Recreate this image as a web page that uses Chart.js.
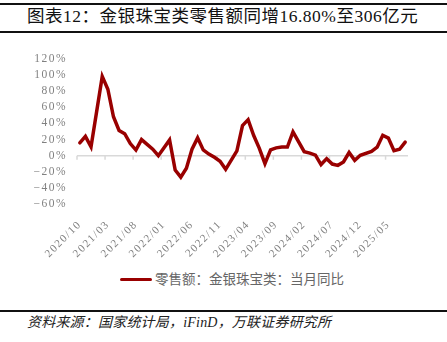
<!DOCTYPE html>
<html lang="zh">
<head>
  <meta charset="UTF-8">
  <title>金银珠宝类零售额</title>
  <script src="https://cdn.jsdelivr.net/npm/chart.js"></script>
  <style>
    body { margin: 0; background: #fff; }
    #wrap { position: relative; width: 447px; height: 342px; overflow: hidden; }
    .rule { position: absolute; left: 0; width: 447px; height: 2px; background: #111; }
    #title { position: absolute; left: 27px; top: 6px; font: 17.5px/20px "Liberation Serif", "Noto Sans CJK SC"; letter-spacing: 0.5px; color: #111; white-space: nowrap; }
    #box { position: absolute; left: 0; top: 40px; width: 447px; height: 225px; }
    #legend { position: absolute; left: 120px; top: 271px; font: 13.5px/18px "Liberation Serif", "Noto Sans CJK SC"; color: #666; white-space: nowrap; }
    #legend i { display: inline-block; width: 32px; height: 3px; border-radius: 2px; background: #990000; vertical-align: middle; margin-right: 3px; position: relative; top: -1px; }
    #src { position: absolute; left: 27px; top: 314px; font: italic 14px/18px "Liberation Serif", "Noto Sans CJK SC"; letter-spacing: 0.2px; color: #222; white-space: nowrap; }
  </style>
</head>
<body>
  <div id="wrap">
    <div class="rule" style="top:3px"></div>
    <div id="title">图表12：金银珠宝类零售额同增16.80%至306亿元</div>
    <div class="rule" style="top:31px"></div>
    <div id="box"><canvas id="chart"></canvas></div>
    <div id="legend"><i></i>零售额：金银珠宝类：当月同比</div>
    <div class="rule" style="top:310px"></div>
    <div id="src">资料来源：国家统计局，iFinD，万联证券研究所</div>
  </div>

  <script>
    // months, 2020/10 .. 2025/08
    const months = [
      "2020/10", "2020/11", "2020/12",
      "2021/01", "2021/02", "2021/03", "2021/04", "2021/05", "2021/06",
      "2021/07", "2021/08", "2021/09", "2021/10", "2021/11", "2021/12",
      "2022/01", "2022/02", "2022/03", "2022/04", "2022/05", "2022/06",
      "2022/07", "2022/08", "2022/09", "2022/10", "2022/11", "2022/12",
      "2023/01", "2023/02", "2023/03", "2023/04", "2023/05", "2023/06",
      "2023/07", "2023/08", "2023/09", "2023/10", "2023/11", "2023/12",
      "2024/01", "2024/02", "2024/03", "2024/04", "2024/05", "2024/06",
      "2024/07", "2024/08", "2024/09", "2024/10", "2024/11", "2024/12",
      "2025/01", "2025/02", "2025/03", "2025/04", "2025/05", "2025/06",
      "2025/07", "2025/08"
    ];

    // 当月同比 (%), January is not published separately
    const yoy = [
      16.0, 24.0, 11.0,
      null, 98.4, 82.5, 48.3, 31.3, 27.2,
      15.0, 7.0, 20.0, 14.0, 8.0, 0.0,
      null, 19.5, -17.9, -26.7, -15.5, 8.0,
      22.1, 7.2, 2.0, -2.0, -7.0, -17.0,
      null, 5.9, 37.4, 44.7, 25.0, 9.0,
      -10.0, 7.2, 9.7, 10.7, 10.7, 29.4,
      null, 5.0, 3.2, 0.7, -11.0, -3.7,
      -10.4, -12.0, -7.8, 3.9, -5.8, 0.5,
      null, 5.4, 10.6, 25.3, 21.8, 6.1,
      8.0, 16.8
    ];

    const yMin = -60, yMax = 120, yStep = 20;
    const labelEvery = 5;

    const gray = "#808080";
    const axisGray = "#d9d9d9";

    // short tick marks hanging under the 0% line, every 5 months
    const zeroTicks = {
      id: "zeroTicks",
      beforeDatasetsDraw(chart) {
        const x = chart.scales.x, y = chart.scales.y;
        const y0 = y.getPixelForValue(0);
        const half = (x.getPixelForValue(1) - x.getPixelForValue(0)) / 2;
        const ctx = chart.ctx;
        ctx.save();
        ctx.strokeStyle = axisGray;
        ctx.lineWidth = 1.5;
        ctx.beginPath();
        for (let i = 0; i < months.length; i += labelEvery) {
          const px = x.getPixelForValue(i) - half;
          ctx.moveTo(px, y0);
          ctx.lineTo(px, y0 + 4);
        }
        ctx.stroke();
        ctx.restore();
      }
    };

    // axis labels are set a little loose
    const looseText = {
      id: "looseText",
      beforeDraw(chart) { chart.ctx.letterSpacing = "1.5px"; },
      afterDraw(chart) { chart.ctx.letterSpacing = "0px"; }
    };

    new Chart(document.getElementById("chart"), {
      type: "line",
      data: {
        labels: months,
        datasets: [{
          label: "零售额：金银珠宝类：当月同比",
          data: yoy,
          borderColor: "#990000",
          backgroundColor: "#990000",
          borderWidth: 3.5,
          borderCapStyle: "round",
          pointRadius: 0,
          tension: 0,
          spanGaps: true
        }]
      },
      options: {
        responsive: true,
        maintainAspectRatio: false,
        animation: false,
        layout: { padding: { top: 19, right: 39, left: 0, bottom: 0 } },
        plugins: {
          legend: { display: false },
          tooltip: { enabled: false }
        },
        scales: {
          x: {
            offset: true,
            grid: { display: false },
            border: { display: false },
            afterFit(scale) { scale.height = 61; },
            ticks: {
              autoSkip: false,
              minRotation: 45,
              maxRotation: 45,
              padding: 6,
              color: gray,
              font: { family: "Liberation Serif", size: 11 },
              callback: (v, i) => (i % labelEvery === 0 ? months[i] : null)
            }
          },
          y: {
            min: yMin,
            max: yMax,
            afterFit(scale) { scale.width = 77; },
            border: { display: false },
            grid: {
              drawTicks: false,
              lineWidth: 1.5,
              color: ctx => (ctx.tick && ctx.tick.value === 0 ? axisGray : "rgba(0,0,0,0)")
            },
            ticks: {
              autoSkip: false,
              stepSize: yStep,
              padding: 10,
              color: gray,
              font: { family: "Liberation Serif", size: 11.5 },
              callback: v => (v < 0 ? "−" : "") + Math.abs(v) + "%"
            }
          }
        }
      },
      plugins: [zeroTicks, looseText]
    });
  </script>
</body>
</html>
